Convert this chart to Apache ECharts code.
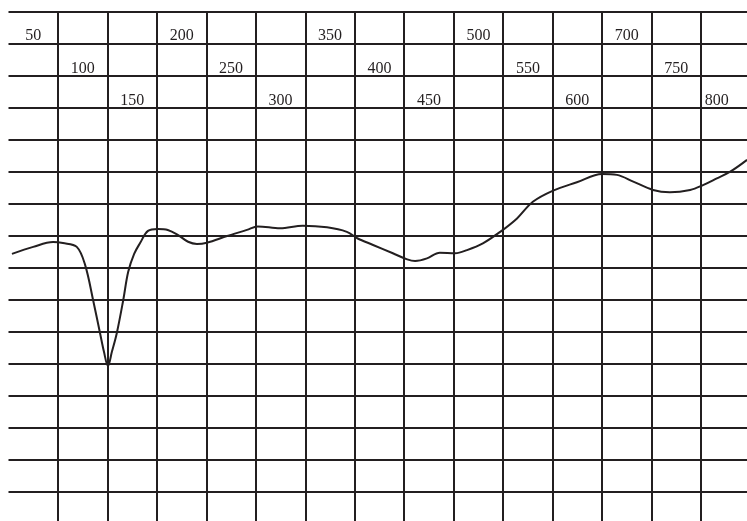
<!DOCTYPE html>
<html>
<head>
<meta charset="utf-8">
<script src="https://cdn.jsdelivr.net/npm/echarts@6/dist/echarts.min.js"></script>
<style>
  html, body { margin: 0; padding: 0; background: #ffffff; overflow: hidden; width: 747px; height: 521px; }
  /* the grid runs a little past the right and bottom edges, so the canvas is larger than the page */
  #chart { width: 760px; height: 530px; }
</style>
</head>
<body>
<div id="chart"></div>
<script>
// Column labels across the top, one per grid column
const columnLabels = ['50', '100', '150', '200', '250', '300', '350', '400', '450', '500', '550', '600', '700', '750', '800'];

// Trace position along the grid, in column units (0 = left edge, 15 = right edge)
const curveX = [0.07, 0.50, 0.90, 1.10, 1.38, 1.55, 1.71, 1.85, 1.93, 2.01, 2.09, 2.19, 2.32, 2.42, 2.54,
  2.66, 2.82, 3.02, 3.22, 3.43, 3.63, 3.81, 4.01, 4.42, 4.82, 5.04, 5.49, 5.95, 6.44, 6.84,
  7.05, 7.37, 7.77, 8.06, 8.22, 8.46, 8.72, 9.03, 9.27, 9.59, 9.94, 10.28, 10.60, 11.01, 11.49,
  12.00, 12.30, 12.63, 13.03, 13.37, 13.78, 14.04, 14.32, 14.59, 14.93];

// Trace level, in grid rows counted up from the bottom
const curveY = [8.44, 8.66, 8.81, 8.78, 8.66, 8.09, 7.00, 5.97, 5.38, 4.94, 5.38, 5.97, 7.00, 7.88, 8.44,
  8.78, 9.16, 9.22, 9.19, 9.03, 8.82, 8.75, 8.79, 9.00, 9.19, 9.30, 9.24, 9.32, 9.27, 9.13,
  8.93, 8.72, 8.46, 8.27, 8.22, 8.30, 8.48, 8.46, 8.56, 8.77, 9.13, 9.55, 10.07, 10.42, 10.68,
  10.94, 10.91, 10.70, 10.44, 10.37, 10.44, 10.59, 10.80, 11.01, 11.38];

const ink = '#231f20';
const curveData = curveX.map((x, i) => [x, curveY[i]]);

// Labels step down through three rows; the last one sits a little in from the page edge
function labelStyle(row, rightPad) {
  return { fontFamily: 'Liberation Serif', fontSize: 16, color: ink, padding: [row * 32.5, rightPad, 0, 0] };
}

const chart = echarts.init(document.getElementById('chart'), null, { renderer: 'canvas' });
chart.setOption({
  backgroundColor: '#ffffff',
  animation: false,
  grid: { left: 8.5, top: 12, width: 742, height: 512, containLabel: false },
  xAxis: [
    {
      type: 'category',
      position: 'top',
      data: columnLabels,
      boundaryGap: true,
      axisLine: { show: false },
      axisTick: { show: false },
      splitLine: {
        show: true,
        interval: 0,
        showMinLine: false,
        lineStyle: { color: ink, width: 2 }
      },
      axisLabel: {
        show: true,
        inside: true,
        interval: 0,
        margin: 16,
        fontFamily: 'Liberation Serif',
        fontSize: 16,
        color: ink,
        formatter: (v, i) => (i === columnLabels.length - 1 ? '{edge|' : '{r' + (i % 3) + '|') + v + '}',
        rich: {
          r0: labelStyle(0, 0),
          r1: labelStyle(1, 0),
          r2: labelStyle(2, 0),
          edge: labelStyle(2, 18)
        }
      }
    },
    {
      type: 'value',
      min: 0,
      max: 15,
      show: false,
      splitLine: { show: false }
    }
  ],
  yAxis: {
    type: 'value',
    min: 0,
    max: 16,
    interval: 1,
    axisLine: { show: false },
    axisTick: { show: false },
    axisLabel: { show: false },
    splitLine: { show: true, lineStyle: { color: ink, width: 2 } }
  },
  series: [
    {
      type: 'line',
      xAxisIndex: 1,
      data: curveData,
      smooth: 0.35,
      symbol: 'none',
      lineStyle: { color: ink, width: 2 },
      z: 5
    }
  ]
});
</script>
</body>
</html>
